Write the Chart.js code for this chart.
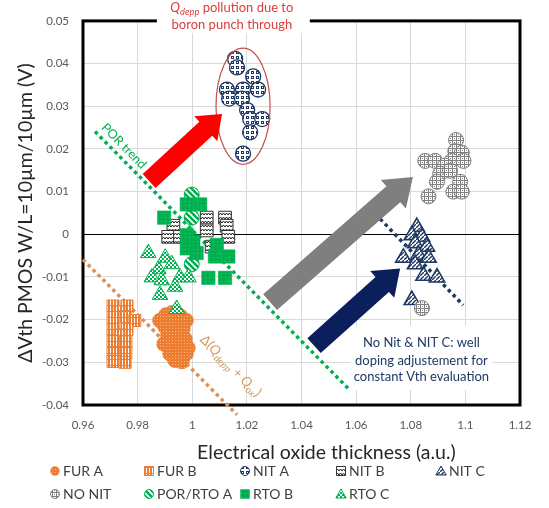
<!DOCTYPE html>
<html>
<head>
<meta charset="utf-8">
<script src="https://cdn.jsdelivr.net/npm/chart.js@4.4.1/dist/chart.umd.min.js"></script>
<style>
  html, body { margin: 0; padding: 0; background: #fff; }
  canvas { display: block; }
</style>
</head>
<body>
<canvas id="c" width="549" height="508"></canvas>
<script>
// ---- series values: electrical oxide thickness (a.u.) vs ΔVth (V) ----
const furA_x = [0.9882,0.9904,0.9926,0.9955,0.9977,0.9900,0.9937,0.9966,0.9911,0.9948,0.9973,0.9897,0.9926,0.9959,0.9984,0.9919,0.9948,0.9977,0.9937,0.9962];
const furA_y = [-0.0202,-0.0189,-0.0184,-0.0191,-0.0202,-0.0216,-0.0211,-0.0220,-0.0236,-0.0234,-0.0245,-0.0257,-0.0257,-0.0261,-0.0266,-0.0280,-0.0280,-0.0280,-0.0295,-0.0298];

const furB_x = [0.9710,0.9761,0.9736,0.9710,0.9754,0.9790,0.9710,0.9761,0.9736,0.9710,0.9757,0.9710,0.9757,0.9710,0.9754];
const furB_y = [-0.0168,-0.0168,-0.0182,-0.0195,-0.0193,-0.0202,-0.0223,-0.0223,-0.0236,-0.0250,-0.0252,-0.0277,-0.0277,-0.0298,-0.0300];

const nitA_x = [1.0157,1.0164,1.0223,1.0127,1.0186,1.0241,1.0135,1.0182,1.0201,1.0212,1.0256,1.0212,1.0186];
const nitA_y = [0.0411,0.0391,0.0370,0.0339,0.0339,0.0339,0.0318,0.0318,0.0291,0.0270,0.0270,0.0239,0.0189];

const nitB_x = [0.9998,0.9931,0.9912,0.9955,1.0053,1.0053,1.0120,1.0126,1.0132,1.0071];
const nitB_y = [0.0081,0.0020,-0.0006,-0.0006,0.0039,0.0009,0.0039,0.0020,-0.0006,-0.0029];

const nitC_x = [1.0822,1.0804,1.0841,1.0816,1.0859,1.0773,1.0828,1.0865,1.0816,1.0847,1.0896,1.0804];
const nitC_y = [0.0017,-0.0002,-0.0006,-0.0021,-0.0029,-0.0055,-0.0048,-0.0055,-0.0070,-0.0097,-0.0101,-0.0154];

const noNit_x = [1.0966,1.0853,1.0889,1.0963,1.0987,1.0950,1.0993,1.0926,1.0908,1.0944,1.0896,1.0981,1.0956,1.0987,1.0865,1.0841];
const noNit_y = [0.0221,0.0172,0.0172,0.0195,0.0191,0.0172,0.0172,0.0161,0.0142,0.0149,0.0123,0.0123,0.0100,0.0100,0.0089,-0.0173];

const porA_x = [0.9998,0.9998,0.9998];
const porA_y = [0.0093,0.0039,-0.0070];

const rtoB_x = [0.9980,1.0029,0.9897,0.9980,1.0004,0.9980,1.0016,1.0090,1.0083,1.0132,1.0059,1.0120];
const rtoB_y = [0.0070,0.0070,0.0039,-0.0002,-0.0017,-0.0033,-0.0044,-0.0025,-0.0052,-0.0052,-0.0102,-0.0102];

const rtoC_x = [0.9839,0.9901,0.9925,0.9876,0.9852,0.9888,0.9955,0.9986,0.9937,0.9882,0.9943];
const rtoC_y = [-0.0044,-0.0055,-0.0070,-0.0082,-0.0101,-0.0108,-0.0101,-0.0101,-0.0123,-0.0142,-0.0175];

// trend lines (end points)
const porTrend_x = [0.9644, 1.0578];
const porTrend_y = [0.0241, -0.0366];
const qTrend_x = [0.9600, 1.0164];
const qTrend_y = [-0.0059, -0.0423];
const nitTrend_x = [1.0670, 1.0992];
const nitTrend_y = [0.0048, -0.0166];

// axis ticks
const xTickValues = [0.96, 0.98, 1, 1.02, 1.04, 1.06, 1.08, 1.1, 1.12];
const xTickLabels = ['0.96', '0.98', '1', '1.02', '1.04', '1.06', '1.08', '1.1', '1.12'];
const yTickValues = [-0.04, -0.03, -0.02, -0.01, 0, 0.01, 0.02, 0.03, 0.04, 0.05];
const yTickLabels = ['-0.04', '-0.03', '-0.02', '-0.01', '0', '0.01', '0.02', '0.03', '0.04', '0.05'];

// ---- drawing helpers ----
const FONT = 'Lato, "Liberation Sans", sans-serif';
const GREEN = '#00B050', ORANGE = '#ED7D31', NAVY = '#1F3864', GREY = '#808080';

const canvas = document.getElementById('c');
const ctx = canvas.getContext('2d');

function tile(w, h, paint) {
  const t = document.createElement('canvas');
  t.width = w; t.height = h;
  const g = t.getContext('2d');
  paint(g, w, h);
  return ctx.createPattern(t, 'repeat');
}

const patFurA = tile(3, 3, (g) => { g.fillStyle = ORANGE; g.fillRect(0, 0, 3, 3); g.fillStyle = '#F6B98A'; g.fillRect(1, 1, 1, 1); });
const patFurB = tile(3, 6, (g) => { g.fillStyle = ORANGE; g.fillRect(0, 0, 3, 6); g.fillStyle = '#fff'; g.fillRect(2, 0, 1, 5); });
const patNitA = tile(5, 5, (g) => {
  g.fillStyle = '#fff'; g.fillRect(0, 0, 5, 5);
  g.fillStyle = NAVY; g.fillRect(1, 1, 3, 3);
  g.fillStyle = '#fff'; g.fillRect(2, 2, 1, 1);
});
const patNitB = tile(6, 4, (g) => {
  g.fillStyle = '#fff'; g.fillRect(0, 0, 6, 4);
  g.strokeStyle = '#222'; g.lineWidth = 1;
  g.beginPath(); g.moveTo(0, 3); g.lineTo(1.5, 1); g.lineTo(3, 3); g.lineTo(4.5, 1); g.lineTo(6, 3); g.stroke();
});
const patNitC = tile(4, 4, (g) => {
  g.fillStyle = '#fff'; g.fillRect(0, 0, 4, 4);
  g.strokeStyle = NAVY; g.lineWidth = 1.4;
  g.beginPath(); g.moveTo(-1, 5); g.lineTo(5, -1); g.stroke();
});
const patNoNit = tile(4, 4, (g) => {
  g.fillStyle = '#fff'; g.fillRect(0, 0, 4, 4);
  g.fillStyle = GREY; g.fillRect(0, 0, 4, 1); g.fillRect(0, 0, 1, 4); g.fillRect(2, 2, 1, 1);
});
const patPor = tile(6, 6, (g) => {
  g.fillStyle = GREEN; g.fillRect(0, 0, 6, 6);
  g.strokeStyle = '#fff'; g.lineWidth = 1.6;
  g.beginPath(); g.moveTo(-1, -1); g.lineTo(7, 7); g.moveTo(-4, 2); g.lineTo(4, 10); g.moveTo(2, -4); g.lineTo(10, 4); g.stroke();
});
const patRtoB = tile(4, 4, (g) => { g.fillStyle = GREEN; g.fillRect(0, 0, 4, 4); g.fillStyle = '#3CC47A'; g.fillRect(1, 1, 1, 1); });
const patRtoC = tile(4, 4, (g) => {
  g.fillStyle = '#fff'; g.fillRect(0, 0, 4, 4);
  g.fillStyle = GREEN; g.fillRect(0, 0, 2, 2); g.fillRect(2, 2, 2, 2);
});

const pts = (xs, ys) => xs.map((x, i) => ({ x: x, y: ys[i] }));

function series(label, xs, ys, style, bg, border, bw, radius, idx) {
  return {
    label: label, data: pts(xs, ys), pointStyle: style,
    backgroundColor: bg, borderColor: border, borderWidth: bw,
    pointRadius: radius, pointHoverRadius: radius, order: -idx
  };
}

function trend(xs, ys, color) {
  return {
    type: 'line', label: '', data: pts(xs, ys), showLine: true, pointRadius: 0,
    borderColor: color, borderWidth: 3.5, borderDash: [3.5, 3.5], fill: false,
    clip: false, order: 10, isTrend: true
  };
}

const datasets = [
  series('FUR A', furA_x, furA_y, 'circle', patFurA, ORANGE, 0.5, 7.5, 0),
  series('FUR B', furB_x, furB_y, 'rect', patFurB, ORANGE, 1, 8.5, 1),
  series('NIT A', nitA_x, nitA_y, 'circle', patNitA, NAVY, 1.3, 7.5, 2),
  series('NIT B', nitB_x, nitB_y, 'rect', patNitB, '#333', 1, 9, 3),
  series('NIT C', nitC_x, nitC_y, 'triangle', patNitC, NAVY, 1.5, 9, 4),
  series('NO NIT', noNit_x, noNit_y, 'circle', patNoNit, GREY, 1, 7.5, 5),
  series('POR/RTO A', porA_x, porA_y, 'circle', patPor, GREEN, 1, 7.5, 6),
  series('RTO B', rtoB_x, rtoB_y, 'rect', patRtoB, GREEN, 0.5, 9.5, 7),
  series('RTO C', rtoC_x, rtoC_y, 'triangle', patRtoC, GREEN, 1, 9, 8),
  trend(porTrend_x, porTrend_y, GREEN),
  trend(qTrend_x, qTrend_y, '#D9915A'),
  trend(nitTrend_x, nitTrend_y, NAVY)
];

// annotation geometry in data units
const redArrow = { from: [0.9842, 0.0125], to: [1.0109, 0.0282], shaft: 19, head: 34, headLen: 22, color: '#FF0000' };
const greyArrow = { from: [1.0285, -0.0159], to: [1.0808, 0.0134], shaft: 21, head: 38, headLen: 26, color: '#7F7F7F' };
const navyArrow = { from: [1.0446, -0.0261], to: [1.0761, -0.0080], shaft: 20, head: 36, headLen: 24, color: '#0B1F5C' };
const ellipse = { cx: 1.0186, cy: 0.0300, rx: 0.0099, ry: 0.0136 };

function blockArrow(g, x1, y1, x2, y2, shaft, headW, headL, color) {
  const dx = x2 - x1, dy = y2 - y1, L = Math.hypot(dx, dy);
  const ux = dx / L, uy = dy / L, px = -uy, py = ux;
  const bx = x2 - ux * headL, by = y2 - uy * headL;
  g.beginPath();
  g.moveTo(x1 + px * shaft / 2, y1 + py * shaft / 2);
  g.lineTo(bx + px * shaft / 2, by + py * shaft / 2);
  g.lineTo(bx + px * headW / 2, by + py * headW / 2);
  g.lineTo(x2, y2);
  g.lineTo(bx - px * headW / 2, by - py * headW / 2);
  g.lineTo(bx - px * shaft / 2, by - py * shaft / 2);
  g.lineTo(x1 - px * shaft / 2, y1 - py * shaft / 2);
  g.closePath();
  g.fillStyle = color;
  g.fill();
}

// rich text runs: {t, it, sub}
function runFont(r, size) {
  const s = r.sub ? size * 0.72 : size;
  return (r.it ? 'italic ' : '') + s + 'px ' + FONT;
}
function runsWidth(g, runs, size) {
  let w = 0;
  runs.forEach(r => { g.font = runFont(r, size); w += g.measureText(r.t).width; });
  return w;
}
function drawRuns(g, runs, cx, baseY, size, color) {
  let x = cx - runsWidth(g, runs, size) / 2;
  g.fillStyle = color;
  g.textAlign = 'left';
  g.textBaseline = 'alphabetic';
  runs.forEach(r => {
    g.font = runFont(r, size);
    g.fillText(r.t, x, baseY + (r.sub ? size * 0.22 : 0));
    x += g.measureText(r.t).width;
  });
}

function marker(g, style, x, y, r, bg, border, bw) {
  g.beginPath();
  if (style === 'circle') {
    g.arc(x, y, r, 0, Math.PI * 2);
  } else if (style === 'rect') {
    g.rect(x - r, y - r, 2 * r, 2 * r);
  } else {
    const a = 2 * Math.PI / 3;
    g.moveTo(x, y - r);
    g.lineTo(x + Math.sin(a) * r, y - Math.cos(a) * r);
    g.lineTo(x + Math.sin(2 * a) * r, y - Math.cos(2 * a) * r);
    g.closePath();
  }
  g.fillStyle = bg; g.fill();
  if (bw > 0) { g.lineWidth = bw; g.strokeStyle = border; g.stroke(); }
}

const framePlugin = {
  id: 'frame',
  beforeDatasetsDraw(chart) {
    const a = chart.chartArea, g = chart.ctx;
    g.save();
    g.lineWidth = 3;
    g.strokeStyle = '#000';
    g.strokeRect(a.left, a.top, a.right - a.left, a.bottom - a.top);
    g.restore();
  }
};

const annotationPlugin = {
  id: 'notes',
  afterDatasetsDraw(chart) {
    const g = chart.ctx, xs = chart.scales.x, ys = chart.scales.y;
    const X = v => xs.getPixelForValue(v), Y = v => ys.getPixelForValue(v);
    g.save();

    // ellipse around the NIT A cluster
    g.beginPath();
    g.ellipse(X(ellipse.cx), Y(ellipse.cy), X(ellipse.cx + ellipse.rx) - X(ellipse.cx),
      Y(ellipse.cy) - Y(ellipse.cy + ellipse.ry), 0, 0, Math.PI * 2);
    g.lineWidth = 1.2; g.strokeStyle = '#C0504D'; g.stroke();

    // arrows
    [redArrow, greyArrow, navyArrow].forEach(ar => {
      blockArrow(g, X(ar.from[0]), Y(ar.from[1]), X(ar.to[0]), Y(ar.to[1]), ar.shaft, ar.head, ar.headLen, ar.color);
    });

    // title box over the top frame
    const tcx = X(1.0145);
    g.fillStyle = '#fff';
    g.fillRect(tcx - 75, 0, 153, 33);
    drawRuns(g, [{ t: 'Q', it: true }, { t: 'depp', it: true, sub: true }, { t: ' pollution due to' }], tcx, 12, 13, '#D9403A');
    drawRuns(g, [{ t: 'boron punch through' }], tcx, 29, 13, '#D9403A');

    // note at the lower right
    const ncx = X(1.0839);
    g.fillStyle = '#fff';
    g.fillRect(ncx - 71, Y(-0.0215), 142, 64);
    g.font = '13px ' + FONT; g.fillStyle = NAVY; g.textAlign = 'center'; g.textBaseline = 'middle';
    g.fillText('No Nit & NIT C: well', ncx, Y(-0.0255));
    g.fillText('doping adjustement for', ncx, Y(-0.0297));
    g.fillText('constant Vth evaluation', ncx, Y(-0.0333));

    // rotated trend labels
    const angPor = Math.atan2(Y(porTrend_y[1]) - Y(porTrend_y[0]), X(porTrend_x[1]) - X(porTrend_x[0]));
    g.save();
    g.translate(X(0.9750), Y(0.0207));
    g.rotate(angPor);
    g.font = '12.5px ' + FONT; g.fillStyle = GREEN; g.textAlign = 'center'; g.textBaseline = 'middle';
    g.fillText('POR trend', 0, 0);
    g.restore();

    const angQ = Math.atan2(Y(qTrend_y[1]) - Y(qTrend_y[0]), X(qTrend_x[1]) - X(qTrend_x[0]));
    g.save();
    g.translate(X(1.0140), Y(-0.0309));
    g.rotate(angQ);
    drawRuns(g, [{ t: 'Δ(' }, { t: 'Q', it: true }, { t: 'depp', it: true, sub: true }, { t: ' + ' },
      { t: 'Q', it: true }, { t: 'ox', it: true, sub: true }, { t: ')' }], 0, 4, 13.5, '#D49A5C');
    g.restore();

    g.restore();
  },
  afterDraw(chart) {
    const g = chart.ctx, a = chart.chartArea;
    g.save();
    // x-axis title
    g.font = '19.5px ' + FONT; g.fillStyle = '#262626'; g.textAlign = 'center'; g.textBaseline = 'middle';
    g.fillText('Electrical oxide thickness (a.u.)', a.left + (a.right - a.left) * 0.557, 453);

    // legend laid out in columns
    const cols = [55, 149, 245, 341, 441], rows = [471, 494];
    const sets = chart.data.datasets.filter(d => !d.isTrend);
    sets.forEach((d, i) => {
      const cx = cols[i % 5], cy = rows[Math.floor(i / 5)];
      const r = d.pointStyle === 'triangle' ? 6 : 4.5;
      marker(g, d.pointStyle, cx, cy + (d.pointStyle === 'triangle' ? 1 : 0), r, d.backgroundColor, d.borderColor, Math.min(d.borderWidth, 1));
      g.font = '14px ' + FONT; g.fillStyle = '#404040'; g.textAlign = 'left'; g.textBaseline = 'middle';
      g.fillText(d.label, cx + 8, cy);
    });
    g.restore();
  }
};

new Chart(ctx, {
  type: 'scatter',
  data: { datasets: datasets },
  options: {
    responsive: false,
    animation: false,
    events: [],
    layout: { padding: { top: 9, right: 29, left: 0, bottom: 0 } },
    plugins: { legend: { display: false }, tooltip: { enabled: false } },
    scales: {
      x: {
        type: 'linear', min: 0.96, max: 1.12,
        afterFit: s => { s.height = 103; },
        afterBuildTicks: s => { s.ticks = xTickValues.map(v => ({ value: v })); },
        ticks: { callback: (v, i) => xTickLabels[i], padding: 13, color: '#595959', font: { family: FONT, size: 11.5 }, maxRotation: 0 },
        grid: { color: '#D9D9D9', lineWidth: 1, drawTicks: false },
        border: { display: false }
      },
      y: {
        type: 'linear', min: -0.04, max: 0.05,
        afterFit: s => { s.width = 83; },
        afterBuildTicks: s => { s.ticks = yTickValues.map(v => ({ value: v })); },
        ticks: { callback: (v, i) => yTickLabels[i], padding: 14, color: '#595959', font: { family: FONT, size: 11.5 } },
        grid: {
          color: c => (c.tick && Math.abs(c.tick.value) < 1e-9) ? '#000' : '#D9D9D9',
          lineWidth: 1, drawTicks: false
        },
        border: { display: false },
        title: {
          display: true, text: 'ΔVth PMOS W/L=10µm/10µm (V)', color: '#262626',
          font: { family: FONT, size: 19.5 }, padding: { top: 14, bottom: 0 }
        }
      }
    }
  },
  plugins: [framePlugin, annotationPlugin]
});
</script>
</body>
</html>
